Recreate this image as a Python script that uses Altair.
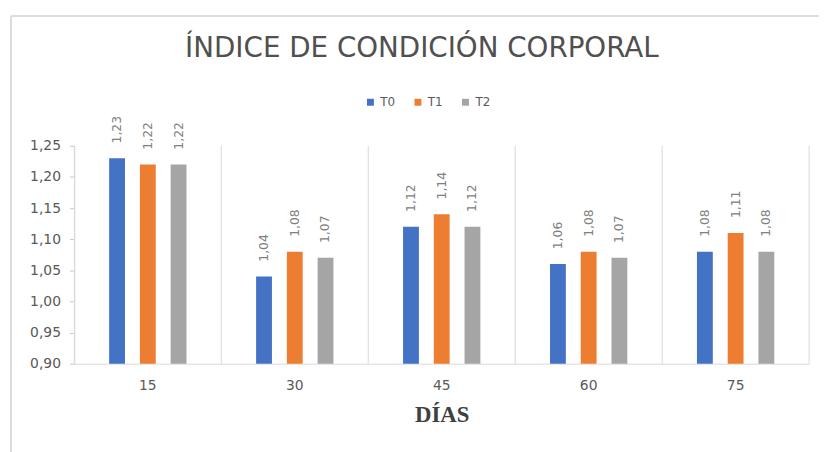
import altair as alt
import pandas as pd

days = ["15", "30", "45", "60", "75"]
series = ["T0", "T1", "T2"]
t0 = [1.23, 1.04, 1.12, 1.06, 1.08]
t1 = [1.22, 1.08, 1.14, 1.08, 1.11]
t2 = [1.22, 1.07, 1.12, 1.07, 1.08]
colors = ["#4472C4", "#ED7D31", "#A5A5A5"]
y_ticks = [0.90, 0.95, 1.00, 1.05, 1.10, 1.15, 1.20, 1.25]

rows = []
for s, vals in zip(series, [t0, t1, t2]):
    for d, v in zip(days, vals):
        rows.append({"day": d, "serie": s, "valor": v})
df = pd.DataFrame(rows)
bounds_df = pd.DataFrame({"day": days})

W, H = 742, 220
GRID = "#D9D9D9"

x_axis = alt.Axis(title="DÍAS", labelAngle=0, ticks=False, labelPadding=15,
                  titlePadding=11)
x_scale = alt.Scale(paddingInner=0, paddingOuter=0)
y_axis = alt.Axis(title=None, values=y_ticks, tickCount=8,
                  labelOverlap=False, labelSeparation=0, labelBound=False,
                  ticks=True, tickSize=5, tickColor="#C8C8C8",
                  domain=True, domainColor=GRID,
                  labelExpr="replace(format(datum.value, '.2f'), '.', ',')")
y_scale = alt.Scale(domain=[0.9, 1.25], zero=False, nice=False)

xoff = alt.XOffset("serie:N", sort=series,
                   scale=alt.Scale(paddingInner=0, paddingOuter=0.89))

base = alt.Chart(df)

bars = base.mark_bar(width=16).encode(
    x=alt.X("day:N", sort=days, scale=x_scale, axis=x_axis),
    xOffset=xoff,
    y=alt.Y("valor:Q", scale=y_scale, axis=y_axis),
    y2=alt.datum(0.9),
    color=alt.Color("serie:N", sort=series,
                    scale=alt.Scale(domain=series, range=colors),
                    legend=alt.Legend(title=None, orient="none",
                                      legendX=293, legendY=-50,
                                      direction="horizontal",
                                      symbolType="square", symbolSize=49,
                                      symbolStrokeWidth=0,
                                      labelFont="DejaVu Sans", labelFontSize=12,
                                      labelColor="#595959", labelOffset=4,
                                      columnPadding=17)),
)

labels = base.transform_calculate(
    txt="replace(format(datum.valor, '.2f'), '.', ',')"
).mark_text(angle=270, align="left", baseline="middle", dx=15,
            font="DejaVu Sans", fontSize=12.5, color="#808080").encode(
    x=alt.X("day:N", sort=days, scale=x_scale, axis=x_axis),
    xOffset=xoff,
    y=alt.Y("valor:Q", scale=y_scale, axis=y_axis),
    text="txt:N",
)

sep = alt.Chart(bounds_df).mark_rule(color=GRID, strokeWidth=1).encode(
    x=alt.X("day:N", sort=days, bandPosition=0, scale=x_scale, axis=x_axis),
    y=alt.value(0),
    y2=alt.value(H),
)
right_edge = alt.Chart(bounds_df.head(1)).mark_rule(color=GRID, strokeWidth=1).encode(
    x=alt.value(W), y=alt.value(0), y2=alt.value(H)
)
frame_top = alt.Chart(bounds_df.head(1)).mark_rule(color="#D0D0D0", strokeWidth=1.5).encode(
    x=alt.value(-64), x2=alt.value(760), y=alt.value(-131)
)
frame_left = alt.Chart(bounds_df.head(1)).mark_rule(color="#D0D0D0", strokeWidth=1.5).encode(
    x=alt.value(-64), y=alt.value(-131), y2=alt.value(310)
)

chart = alt.layer(bars, frame_top, frame_left, sep, right_edge, labels).properties(
    width=W, height=H,
    title=alt.Title("ÍNDICE DE CONDICIÓN CORPORAL", font="DejaVu Sans",
                    fontSize=28, fontWeight="normal", color="#505050",
                    anchor="middle", dx=-20, offset=-48),
    autosize=alt.AutoSizeParams(type="none"),
    padding={"left": 67, "top": 137, "right": 10, "bottom": 87},
).configure_view(stroke=None).configure_axisX(
    labelFont="DejaVu Sans", labelFontSize=14, labelColor="#595959",
    domainColor=GRID, grid=False, ticks=False,
    titleFont="Liberation Serif", titleFontWeight="bold",
    titleFontSize=23, titleColor="#404040",
).configure_axisY(
    labelFont="DejaVu Sans", labelFontSize=14, labelColor="#595959",
    labelPadding=9, labelOverlap=False, labelBound=False, grid=False,
    tickSize=5, tickColor="#C8C8C8", domainColor=GRID,
)

chart.save("out.html", embed_options={"renderer": "svg", "actions": False})
